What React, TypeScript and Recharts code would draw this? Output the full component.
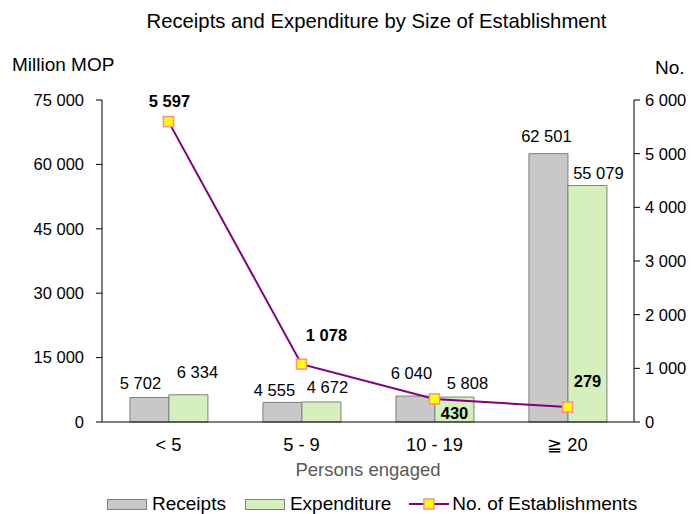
import React from 'react';
import { ComposedChart, Bar, Line, XAxis, YAxis, LabelList } from 'recharts';

const categories = ['< 5', '5 - 9', '10 - 19', '≧ 20'];
const receipts = [5702, 4555, 6040, 62501];
const expenditure = [6334, 4672, 5808, 55079];
const establishments = [5597, 1078, 430, 279];
const leftTicks = [0, 15000, 30000, 45000, 60000, 75000];
const rightTicks = [0, 1000, 2000, 3000, 4000, 5000, 6000];

const data = categories.map((name, i) => ({
  name,
  receipts: receipts[i],
  expenditure: expenditure[i],
  establishments: establishments[i],
}));

const FONT = '"Liberation Sans", Arial, sans-serif';
const COLORS = {
  receipts: '#C8C8C8',
  expenditure: '#D5F0BD',
  barStroke: '#7F7F7F',
  line: '#800080',
  markerFill: '#FFFF00',
  markerStroke: '#FF8C8C',
};

// label nudges (dx, dy) relative to bar centre / top or the line point
const receiptOffsets = [[-9, -15], [-8, -12], [-4, -23], [-2, -18]];
const expenditureOffsets = [[9, -23], [6, -15], [13, -14], [11, -13]];
const lineOffsets = [[1, -21], [25, -29], [20, 14], [20, -26]];

const fmt = (v: number) => String(v).replace(/\B(?=(\d{3})+(?!\d))/g, ' ');

const barLabel = (offsets: number[][]) => (props: any) => {
  const { x, y, width, value, index } = props;
  const [dx, dy] = offsets[index];
  return (
    <text x={x + width / 2 + dx} y={y + dy} textAnchor="middle" dominantBaseline="central"
      fontSize={16.5} fontFamily={FONT} fill="#000">
      {fmt(value)}
    </text>
  );
};

const lineLabel = (props: any) => {
  const { x, y, value, index } = props;
  const [dx, dy] = lineOffsets[index];
  return (
    <text x={x + dx} y={y + dy} textAnchor="middle" dominantBaseline="central"
      fontSize={16.5} fontWeight="bold" fontFamily={FONT} fill="#000">
      {fmt(value)}
    </text>
  );
};

const SquareDot = (props: any) => {
  const { cx, cy } = props;
  return <rect x={cx - 5} y={cy - 5} width={10} height={10} fill={COLORS.markerFill} stroke={COLORS.markerStroke} strokeWidth={1.5} />;
};

export default function App() {
  const tickStyle = { fontSize: 16.5, fontFamily: FONT, fill: '#000' };
  return (
    <div style={{ position: 'absolute', left: 0, top: 0, width: 698, height: 514, background: '#fff', fontFamily: FONT }}>
      <div style={{ position: 'absolute', left: 0, width: 753, top: 10, textAlign: 'center', fontSize: 20.3 }}>
        Receipts and Expenditure by Size of Establishment
      </div>
      <div style={{ position: 'absolute', left: 12, top: 54, fontSize: 19 }}>Million MOP</div>
      <div style={{ position: 'absolute', left: 655, top: 57, fontSize: 19 }}>No.</div>
      <div style={{ position: 'absolute', left: 102, width: 532, top: 459, textAlign: 'center', fontSize: 18.5, color: '#595959' }}>
        Persons engaged
      </div>

      <ComposedChart width={698} height={514} data={data}
        margin={{ top: 100, right: 0, left: 42, bottom: 62 }}
        barCategoryGap="21%" barGap={0}>
        <XAxis dataKey="name" tickLine={false} axisLine={{ stroke: '#000' }} height={30}
          tick={{ ...tickStyle, fontSize: 18.3 }} tickMargin={10} />
        <YAxis yAxisId="left" domain={[0, 75000]} ticks={leftTicks} width={60}
          tickFormatter={fmt} tick={tickStyle} axisLine={{ stroke: '#000' }} tickLine={{ stroke: '#000' }}
          tickMargin={12} />
        <YAxis yAxisId="right" orientation="right" domain={[0, 6000]} ticks={rightTicks} width={64}
          tickFormatter={fmt} tick={tickStyle} axisLine={{ stroke: '#000' }} tickLine={{ stroke: '#000' }}
          tickMargin={5} />
        <Bar yAxisId="left" dataKey="receipts" fill={COLORS.receipts} stroke={COLORS.barStroke} strokeWidth={1}
          isAnimationActive={false}>
          <LabelList dataKey="receipts" content={barLabel(receiptOffsets)} />
        </Bar>
        <Bar yAxisId="left" dataKey="expenditure" fill={COLORS.expenditure} stroke={COLORS.barStroke} strokeWidth={1}
          isAnimationActive={false}>
          <LabelList dataKey="expenditure" content={barLabel(expenditureOffsets)} />
        </Bar>
        <Line yAxisId="right" dataKey="establishments" stroke={COLORS.line} strokeWidth={2}
          dot={<SquareDot />} activeDot={false} isAnimationActive={false}>
          <LabelList dataKey="establishments" content={lineLabel} />
        </Line>
      </ComposedChart>

      {/* legend */}
      <div style={{ position: 'absolute', top: 493, left: 107, display: 'flex', alignItems: 'center', fontSize: 19, whiteSpace: 'nowrap' }}>
        <span style={{ display: 'inline-block', width: 38, height: 9, background: COLORS.receipts, border: `1px solid ${COLORS.barStroke}`, marginRight: 5 }} />
        <span style={{ marginRight: 19 }}>Receipts</span>
        <span style={{ display: 'inline-block', width: 38, height: 9, background: COLORS.expenditure, border: `1px solid ${COLORS.barStroke}`, marginRight: 5 }} />
        <span style={{ marginRight: 18 }}>Expenditure</span>
        <svg width={40} height={14} style={{ marginRight: 3 }}>
          <line x1={0} y1={7} x2={40} y2={7} stroke={COLORS.line} strokeWidth={2} />
          <rect x={15} y={2} width={10} height={10} fill={COLORS.markerFill} stroke={COLORS.markerStroke} strokeWidth={1.5} />
        </svg>
        <span>No. of Establishments</span>
      </div>
    </div>
  );
}
